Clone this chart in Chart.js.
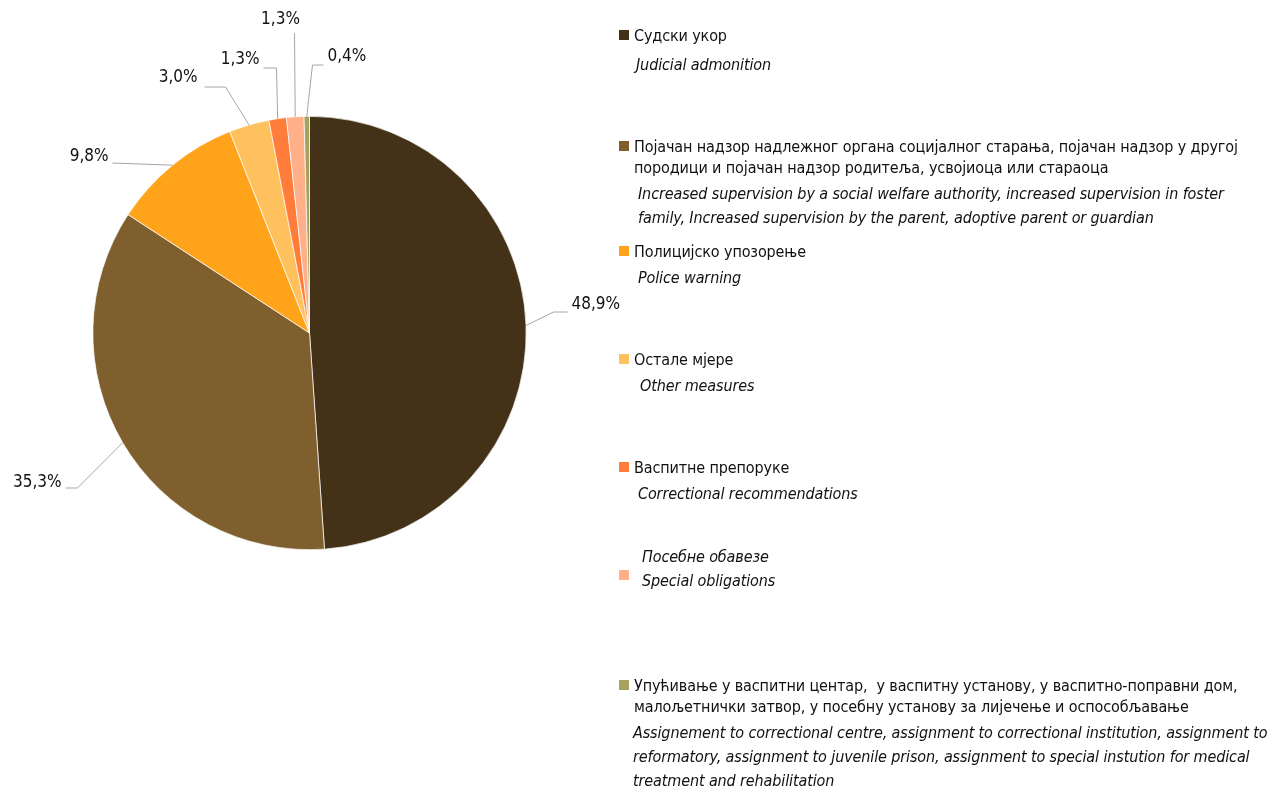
<!DOCTYPE html>
<html>
<head>
<meta charset="utf-8">
<script src="https://cdn.jsdelivr.net/npm/chart.js@4"></script>
<style>
  html, body { margin: 0; padding: 0; background: #fff; }
  #wrap { position: relative; width: 1274px; height: 789px; overflow: hidden;
    font-family: "Liberation Sans Narrow", "Arial Narrow", "DejaVu Sans Condensed", sans-serif; color: #111; }
  #pie { position: absolute; left: 0; top: 0; }
  .lg { position: absolute; font-size: 16px; white-space: pre; letter-spacing: -0.12px; }
  .sq { position: absolute; width: 10px; height: 10px; }
  .it { font-style: italic; }
</style>
</head>
<body>
<div id="wrap">
  <canvas id="pie" width="1274" height="789"></canvas>
  <div id="legend"></div>
</div>
<script>
const mjere = [
  'Судски укор',
  'Појачан надзор надлежног органа социјалног старања, појачан надзор у другој\nпородици и појачан надзор родитеља, усвојиоца или стараоца',
  'Полицијско упозорење',
  'Остале мјере',
  'Васпитне препоруке',
  'Посебне обавезе',
  'Упућивање у васпитни центар,  у васпитну установу, у васпитно-поправни дом,\nмалољетнички затвор, у посебну установу за лијечење и оспособљавање'
];
const mjereEn = [
  'Judicial admonition',
  'Increased supervision by a social welfare authority, increased supervision in foster\nfamily, Increased supervision by the parent, adoptive parent or guardian',
  'Police warning',
  'Other measures',
  'Correctional recommendations',
  'Special obligations',
  'Assignement to correctional centre, assignment to correctional institution, assignment to\nreformatory, assignment to juvenile prison, assignment to special instution for medical\ntreatment and rehabilitation'
];
const udio = [48.9, 35.3, 9.8, 3.0, 1.3, 1.3, 0.4];
const boje = ['#433218', '#7F5F2E', '#FFA31A', '#FFC15E', '#FF7C3A', '#FFB089', '#A6A15E'];

// legend layout (center y of first line of each block)
const legendPos = [
  { sq: 35, sr: 36, en: 65, enX: 636 },
  { sq: 146, sr: 147, en: 194, enX: 638 },
  { sq: 251, sr: 252, en: 278, enX: 638 },
  { sq: 359, sr: 360, en: 386, enX: 640 },
  { sq: 467, sr: 468, en: 494, enX: 638 },
  { sq: 575, sr: 557, en: 581, enX: 642, srItalic: true },
  { sq: 685, sr: 686, en: 733, enX: 633 }
];

const legend = document.getElementById('legend');
mjere.forEach((txt, i) => {
  const p = legendPos[i];
  legend.innerHTML += `
    <div class="sq" style="left:619px;top:${p.sq - 5}px;background:${boje[i]}"></div>
    <div class="lg ${p.srItalic ? 'it' : ''}" style="left:${p.srItalic ? 642 : 634}px;top:${p.sr - 11}px;line-height:21px">${txt}</div>
    <div class="lg it" style="left:${p.enX}px;top:${p.en - 12}px;line-height:24px">${mjereEn[i]}</div>
  `;
});

// leader lines + percentage labels, relative to pie center
const labelLayout = [
  { pts: [[244, -21], [258, -21]], text: [262, -28, 'left'] },
  { pts: [[-232, 155], [-244, 155]], text: [-248, 150, 'right'] },
  { pts: [[-197, -170]], text: [-201, -176, 'right'] },
  { pts: [[-84, -246], [-105, -246]], text: [-112, -255, 'right'] },
  { pts: [[-33, -265], [-46, -265]], text: [-50, -273, 'right'] },
  { pts: [[-15, -300]], text: [-29, -313, 'center'] },
  { pts: [[3, -268], [14, -268]], text: [18, -276, 'left'] }
];

const leaderLabels = {
  id: 'leaderLabels',
  afterDatasetsDraw(chart) {
    const c = chart.ctx;
    const arcs = chart.getDatasetMeta(0).data;
    c.save();
    arcs.forEach((arc, i) => {
      const mid = (arc.startAngle + arc.endAngle) / 2;
      const ex = arc.x + Math.cos(mid) * arc.outerRadius;
      const ey = arc.y + Math.sin(mid) * arc.outerRadius;
      const l = labelLayout[i];
      c.strokeStyle = '#A6A6A6';
      c.lineWidth = 1;
      c.beginPath();
      c.moveTo(ex, ey);
      l.pts.forEach(p => c.lineTo(arc.x + p[0], arc.y + p[1]));
      c.stroke();
      c.fillStyle = '#111';
      c.font = '17px "Liberation Sans Narrow", "Arial Narrow", "DejaVu Sans Condensed", sans-serif';
      c.textAlign = l.text[2];
      c.textBaseline = 'middle';
      c.fillText(udio[i].toFixed(1).replace('.', ',') + '%', arc.x + l.text[0], arc.y + l.text[1]);
    });
    c.restore();
  }
};

const ctx = document.getElementById('pie').getContext('2d');
const pieChart = new Chart(ctx, {
  type: 'pie',
  data: {
    labels: mjere,
    datasets: [{
      data: udio,
      backgroundColor: boje,
      borderColor: '#ffffff',
      borderWidth: 0.7
    }]
  },
  options: {
    responsive: false,
    animation: false,
    layout: { padding: { left: 92, top: 116, right: 747, bottom: 239 } },
    plugins: {
      legend: { display: false },
      tooltip: { enabled: false }
    }
  },
  plugins: [leaderLabels]
});
</script>
</body>
</html>
